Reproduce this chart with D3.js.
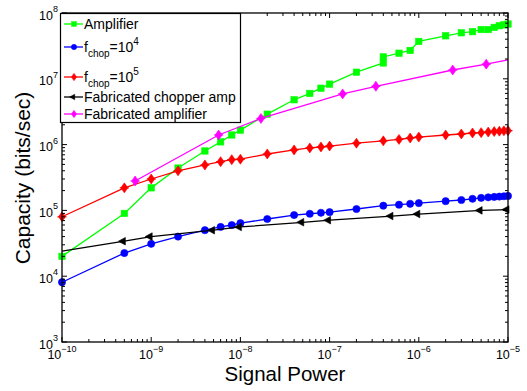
<!DOCTYPE html>
<html>
<head>
<meta charset="UTF-8">
<style>
  body { margin: 0; background: #fff; }
  text { font-family: "Liberation Sans", Arial, sans-serif; fill: #000; }
</style>
</head>
<body>
<svg id="chart" width="527" height="391"></svg>
<script src="https://d3js.org/d3.v7.min.js"></script>
<script>
// ---- data ----
const ampX = [1e-10, 5e-10, 1e-9, 2e-9, 4e-9, 6e-9, 8e-9, 1e-8, 2e-8, 4e-8, 6e-8, 8e-8, 1e-7, 2e-7, 4e-7, 4e-7, 6e-7, 8e-7, 1e-6, 2e-6, 3e-6, 4e-6, 5e-6, 6e-6, 7e-6, 8e-6, 9e-6, 1e-5];
const ampY = [2e4, 9e4, 2.2e5, 4.4e5, 8e5, 1.1e6, 1.4e6, 1.66e6, 2.9e6, 4.8e6, 6e6, 7.2e6, 8.3e6, 1.26e7, 1.74e7, 2.15e7, 2.45e7, 2.7e7, 3.7e7, 4.5e7, 5e7, 5.2e7, 5.6e7, 5.6e7, 6.05e7, 6.4e7, 6.6e7, 6.8e7];

const chopX = [1e-10, 5e-10, 1e-9, 2e-9, 4e-9, 6e-9, 8e-9, 1e-8, 2e-8, 4e-8, 6e-8, 8e-8, 1e-7, 2e-7, 4e-7, 6e-7, 8e-7, 1e-6, 2e-6, 3e-6, 4e-6, 5e-6, 6e-6, 7e-6, 8e-6, 9e-6, 1e-5];
const chop4Y = [8.1e3, 2.25e4, 3.1e4, 4e4, 5e4, 5.6e4, 6e4, 6.4e4, 7.4e4, 8.5e4, 8.9e4, 9.2e4, 9.4e4, 1.05e5, 1.18e5, 1.22e5, 1.26e5, 1.29e5, 1.38e5, 1.44e5, 1.5e5, 1.55e5, 1.58e5, 1.6e5, 1.62e5, 1.64e5, 1.66e5];
const chop5Y = [8e4, 2.2e5, 3e5, 4e5, 4.9e5, 5.5e5, 5.9e5, 6e5, 7.2e5, 8.3e5, 8.9e5, 9.2e5, 9.5e5, 1.05e6, 1.14e6, 1.2e6, 1.26e6, 1.3e6, 1.4e6, 1.45e6, 1.5e6, 1.52e6, 1.55e6, 1.58e6, 1.6e6, 1.62e6, 1.63e6];

const fabChopX = [1e-10, 5e-10, 1e-9, 5e-9, 1e-8, 5e-8, 1e-7, 5e-7, 1e-6, 5e-6, 1e-5];
const fabChopY = [2.4e4, 3.4e4, 4e4, 5e4, 5.6e4, 6.6e4, 7.1e4, 8.2e4, 8.8e4, 1e5, 1.03e5];

const fabAmpX = [6.6e-10, 5.7e-9, 1.7e-8, 1.4e-7, 3.3e-7, 2.4e-6, 5.7e-6, 1e-5];
const fabAmpY = [2.8e5, 1.4e6, 2.5e6, 5.9e6, 7.7e6, 1.36e7, 1.67e7, 1.94e7];

const xTickExp = [-10, -9, -8, -7, -6, -5];
const yTickExp = [3, 4, 5, 6, 7, 8];

// ---- layout ----
const svg = d3.select("#chart");
const pLeft = 62, pRight = 508, pTop = 13, pBottom = 342;

const x = d3.scaleLog().domain([1e-10, 1e-5]).range([pLeft, pRight]);
const y = d3.scaleLog().domain([1e3, 1e8]).range([pBottom, pTop]);

// marker shapes
const markers = {
  square: g => g.append("rect").attr("x", -3.2).attr("y", -3.2).attr("width", 6.4).attr("height", 6.4),
  circle: g => g.append("circle").attr("r", 3.6),
  diamond: g => g.append("path").attr("d", "M0,-5L3.5,0L0,5L-3.5,0Z"),
  triLeft: g => g.append("path").attr("d", "M-6,0L1,-3.8L1,3.8Z")
};

const series = [
  { name: "Amplifier", xs: ampX, ys: ampY, color: "#00ff00", marker: "square", skip: [] },
  { name: "chop4", xs: chopX, ys: chop4Y, color: "#0000ff", marker: "circle", skip: [] },
  { name: "chop5", xs: chopX, ys: chop5Y, color: "#ff0000", marker: "diamond", skip: [] },
  { name: "Fabricated chopper amp", xs: fabChopX, ys: fabChopY, color: "#000000", marker: "triLeft", skip: [0] },
  { name: "Fabricated amplifier", xs: fabAmpX, ys: fabAmpY, color: "#ff00ff", marker: "diamond", skip: [fabAmpX.length - 1] }
];

const line = d3.line().x(d => x(d[0])).y(d => y(d[1]));

const plot = svg.append("g");
series.forEach(s => {
  const pts = s.xs.map((v, i) => [v, s.ys[i]]);
  plot.append("path")
    .attr("d", line(pts))
    .attr("fill", "none")
    .attr("stroke", s.color)
    .attr("stroke-width", 1.3);
  pts.forEach((p, i) => {
    if (s.skip.includes(i)) return;
    const g = plot.append("g")
      .attr("transform", "translate(" + x(p[0]) + "," + y(p[1]) + ")")
      .attr("fill", s.color)
      .attr("stroke", s.color)
      .attr("stroke-width", 0.6);
    markers[s.marker](g);
    if (s.marker === "diamond") {
      g.append("line").attr("x1", -4.5).attr("x2", 4.5).attr("stroke-width", 1.2);
    }
  });
});

// ---- axes: box, major + minor ticks inside on all sides ----
const axes = svg.append("g");
axes.append("rect")
  .attr("x", pLeft).attr("y", pTop)
  .attr("width", pRight - pLeft).attr("height", pBottom - pTop)
  .attr("fill", "none").attr("stroke", "#000").attr("stroke-width", 1.3);

const isMajor = t => Math.abs(Math.log10(t) - Math.round(Math.log10(t))) < 1e-6;

x.ticks().forEach(t => {
  const len = isMajor(t) ? 5 : 3;
  const px = x(t);
  axes.append("line").attr("x1", px).attr("x2", px).attr("y1", pBottom).attr("y2", pBottom - len).attr("stroke", "#000");
  axes.append("line").attr("x1", px).attr("x2", px).attr("y1", pTop).attr("y2", pTop + len).attr("stroke", "#000");
});
y.ticks().forEach(t => {
  const len = isMajor(t) ? 5 : 3;
  const py = y(t);
  axes.append("line").attr("y1", py).attr("y2", py).attr("x1", pLeft).attr("x2", pLeft + len).attr("stroke", "#000");
  axes.append("line").attr("y1", py).attr("y2", py).attr("x1", pRight).attr("x2", pRight - len).attr("stroke", "#000");
});

// tick labels: 10 with superscript exponent
xTickExp.forEach(e => {
  const t = svg.append("text")
    .attr("x", x(Math.pow(10, e)))
    .attr("y", 359)
    .attr("text-anchor", "middle")
    .attr("font-size", 12.5);
  t.append("tspan").text("10");
  t.append("tspan").attr("dy", -7.5).attr("font-size", 9).text("\u2212" + (-e));
});
yTickExp.forEach(e => {
  const t = svg.append("text")
    .attr("x", 58)
    .attr("y", y(Math.pow(10, e)) + 6.5)
    .attr("text-anchor", "end")
    .attr("font-size", 12.5);
  t.append("tspan").text("10");
  t.append("tspan").attr("dy", -7.5).attr("font-size", 9).text(e);
});

// axis titles
svg.append("text")
  .attr("x", 285).attr("y", 381)
  .attr("text-anchor", "middle")
  .attr("font-size", 20.5)
  .text("Signal Power");
svg.append("text")
  .attr("transform", "translate(30,178) rotate(-90)")
  .attr("text-anchor", "middle")
  .attr("font-size", 21)
  .text("Capacity (bits/sec)");

// ---- legend ----
const legend = svg.append("g");
legend.append("rect")
  .attr("x", 60.5).attr("y", 13.5).attr("width", 180).attr("height", 109)
  .attr("fill", "#fff").attr("stroke", "#000").attr("stroke-width", 1.2);

const legendRows = [
  { s: series[0], y: 24, label: ["Amplifier"] },
  { s: series[1], y: 47, label: ["f", "chop", "=10", "4"] },
  { s: series[2], y: 77, label: ["f", "chop", "=10", "5"] },
  { s: series[3], y: 97, label: ["Fabricated chopper amp"] },
  { s: series[4], y: 114, label: ["Fabricated amplifier"] }
];
legendRows.forEach(r => {
  legend.append("line")
    .attr("x1", 64).attr("x2", 83).attr("y1", r.y).attr("y2", r.y)
    .attr("stroke", r.s.color).attr("stroke-width", 1.3);
  const g = legend.append("g")
    .attr("transform", "translate(74," + r.y + ") scale(0.75)")
    .attr("fill", r.s.color).attr("stroke", r.s.color).attr("stroke-width", 0.6);
  markers[r.s.marker](g);
  const t = legend.append("text")
    .attr("x", 84).attr("y", r.y + 5)
    .attr("font-size", 14);
  if (r.label.length === 1) {
    t.text(r.label[0]);
  } else {
    t.append("tspan").text(r.label[0]);
    t.append("tspan").attr("dy", 5).attr("font-size", 10).text(r.label[1]);
    t.append("tspan").attr("dy", -5).text(r.label[2]);
    t.append("tspan").attr("dy", -7).attr("font-size", 10).text(r.label[3]);
  }
});
</script>
</body>
</html>
